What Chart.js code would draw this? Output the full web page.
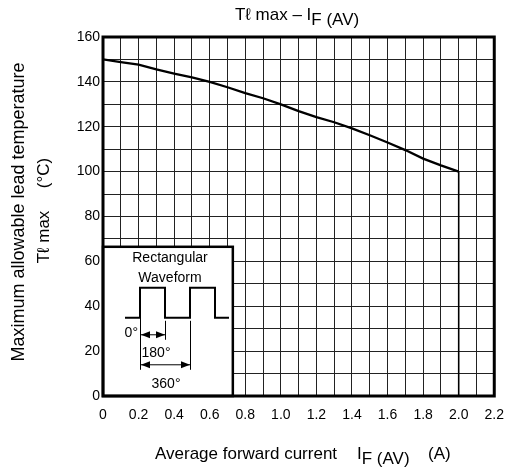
<!DOCTYPE html>
<html>
<head>
<meta charset="utf-8">
<script src="https://cdn.jsdelivr.net/npm/chart.js@4.4.0/dist/chart.umd.min.js"></script>
<style>
  html, body { margin: 0; padding: 0; background: #fff; }
  #grafico { display: block; }
</style>
</head>
<body>
<canvas id="grafico" width="515" height="468"></canvas>
<script>
// derating curve: lead temperature vs average forward current
const current = [0, 0.1, 0.2, 0.3, 0.4, 0.5, 0.6, 0.7, 0.8, 0.9, 1.0,
                 1.1, 1.2, 1.3, 1.4, 1.5, 1.6, 1.7, 1.8, 1.9, 2.0, 2.0];
const leadTemp = [150, 148.8, 147.7, 145.6, 143.7, 142, 140, 137.6, 135, 132.7, 130,
                  127, 124.3, 122, 119.3, 116.2, 113, 109.6, 105.8, 102.8, 100, 0];

const xTickLabels = ['0', '0.2', '0.4', '0.6', '0.8', '1.0', '1.2', '1.4', '1.6', '1.8', '2.0', '2.2'];
const yTickLabels = ['0', '20', '40', '60', '80', '100', '120', '140', '160'];

const FONT = '"Liberation Sans", Arial, sans-serif';

// inset box corner (data units)
const INSET_RIGHT = 0.73;
const INSET_TOP = 66.5;

function textWithSub(ctx, parts, x, y) {
    // parts: [text, dy, size]
    let cx = x;
    parts.forEach(p => {
        ctx.font = p[2] + 'px ' + FONT;
        ctx.fillText(p[0], cx, y + p[1]);
        cx += ctx.measureText(p[0]).width;
    });
}

function arrowHead(ctx, x, y, dir) {
    ctx.beginPath();
    ctx.moveTo(x, y);
    ctx.lineTo(x + dir * 9, y - 3.5);
    ctx.lineTo(x + dir * 9, y + 3.5);
    ctx.closePath();
    ctx.fill();
}

const labelsPlugin = {
    id: 'labels',
    afterDatasetsDraw(chart) {
        const ctx = chart.ctx;
        const a = chart.chartArea;
        const xs = chart.scales.x, ys = chart.scales.y;
        ctx.save();
        ctx.fillStyle = '#000';
        ctx.strokeStyle = '#000';
        ctx.textBaseline = 'alphabetic';

        // inset with waveform sketch
        const L = xs.getPixelForValue(0);
        const R = xs.getPixelForValue(INSET_RIGHT);
        const T = ys.getPixelForValue(INSET_TOP);
        const B = ys.getPixelForValue(0);
        ctx.fillStyle = '#fff';
        ctx.fillRect(L, T, R - L, B - T);
        ctx.fillStyle = '#000';
        ctx.lineWidth = 2.5;
        ctx.strokeRect(L, T, R - L, B - T);

        ctx.font = '14px ' + FONT;
        ctx.textAlign = 'center';
        ctx.fillText('Rectangular', L + 67, T + 15);
        ctx.fillText('Waveform', L + 67, T + 35);

        ctx.lineWidth = 2;
        ctx.beginPath();
        ctx.moveTo(L + 22, T + 71);
        ctx.lineTo(L + 37, T + 71);
        ctx.lineTo(L + 37, T + 41);
        ctx.lineTo(L + 62, T + 41);
        ctx.lineTo(L + 62, T + 71);
        ctx.lineTo(L + 87, T + 71);
        ctx.lineTo(L + 87, T + 41);
        ctx.lineTo(L + 112, T + 41);
        ctx.lineTo(L + 112, T + 71);
        ctx.lineTo(L + 126, T + 71);
        ctx.stroke();

        ctx.lineWidth = 1;
        ctx.beginPath();
        ctx.moveTo(L + 37.5, T + 71); ctx.lineTo(L + 37.5, T + 123);
        ctx.moveTo(L + 62.5, T + 74); ctx.lineTo(L + 62.5, T + 93);
        ctx.moveTo(L + 87.5, T + 74); ctx.lineTo(L + 87.5, T + 123);
        ctx.moveTo(L + 38, T + 88); ctx.lineTo(L + 62, T + 88);
        ctx.moveTo(L + 38, T + 118); ctx.lineTo(L + 87, T + 118);
        ctx.stroke();
        arrowHead(ctx, L + 38, T + 88, 1);
        arrowHead(ctx, L + 62, T + 88, -1);
        arrowHead(ctx, L + 38, T + 118, 1);
        arrowHead(ctx, L + 87, T + 118, -1);

        ctx.textAlign = 'right';
        ctx.fillText('0°', L + 35, T + 90);
        ctx.textAlign = 'center';
        ctx.fillText('180°', L + 53, T + 110);
        ctx.fillText('360°', L + 63, T + 141);

        // frame
        ctx.lineWidth = 3;
        ctx.strokeRect(a.left, a.top, a.right - a.left, a.bottom - a.top);

        // chart title
        ctx.textAlign = 'left';
        textWithSub(ctx, [['Tℓ max – I', 0, 17], ['F (AV)', 5, 17]], 235, 20);

        // x axis title
        textWithSub(ctx, [['Average forward current', 0, 17]], 155, 459);
        textWithSub(ctx, [['I', 0, 17], ['F (AV)', 5, 17]], 357, 459);
        textWithSub(ctx, [['(A)', 0, 17]], 428, 459);

        // y axis title, rotated
        ctx.rotate(-Math.PI / 2);
        ctx.textAlign = 'center';
        ctx.textBaseline = 'middle';
        ctx.font = '18px ' + FONT;
        ctx.fillText('Maximum allowable lead temperature', -212, 19);
        ctx.font = '17px ' + FONT;
        ctx.fillText('Tℓ max', -237, 44);
        ctx.fillText('(°C)', -173, 44);
        ctx.restore();
    }
};

const config = {
    type: 'line',
    data: {
        datasets: [{
            data: current.map((x, i) => ({ x: x, y: leadTemp[i] })),
            borderColor: '#000',
            borderWidth: 2.3,
            pointRadius: 0,
            tension: 0,
            fill: false,
            segment: {
                borderWidth: c => c.p0DataIndex === current.length - 2 ? 1.6 : undefined
            }
        }]
    },
    options: {
        responsive: false,
        animation: false,
        layout: { padding: { top: 37, right: 13, left: 0, bottom: 0 } },
        plugins: {
            legend: { display: false },
            title: { display: false },
            tooltip: { enabled: false }
        },
        scales: {
            x: {
                type: 'linear',
                min: 0,
                max: 2.2,
                afterFit: s => { s.height = 72; },
                border: { display: false },
                grid: { color: '#222', lineWidth: 1, drawTicks: false },
                ticks: {
                    stepSize: 0.1,
                    autoSkip: false,
                    maxRotation: 0,
                    padding: 11,
                    color: '#000',
                    font: { family: FONT, size: 14 },
                    callback: v => {
                        const i = Math.round(v * 10);
                        return i % 2 === 0 ? xTickLabels[i / 2] : '';
                    }
                }
            },
            y: {
                min: 0,
                max: 160,
                afterFit: s => { s.width = 103; },
                border: { display: false },
                grid: { color: '#222', lineWidth: 1, drawTicks: false },
                ticks: {
                    stepSize: 10,
                    autoSkip: false,
                    padding: 3,
                    color: '#000',
                    font: { family: FONT, size: 14 },
                    callback: v => {
                        const i = Math.round(v / 10);
                        return i % 2 === 0 ? yTickLabels[i / 2] : '';
                    }
                }
            }
        }
    },
    plugins: [labelsPlugin]
};

new Chart(document.getElementById('grafico'), config);
</script>
</body>
</html>
